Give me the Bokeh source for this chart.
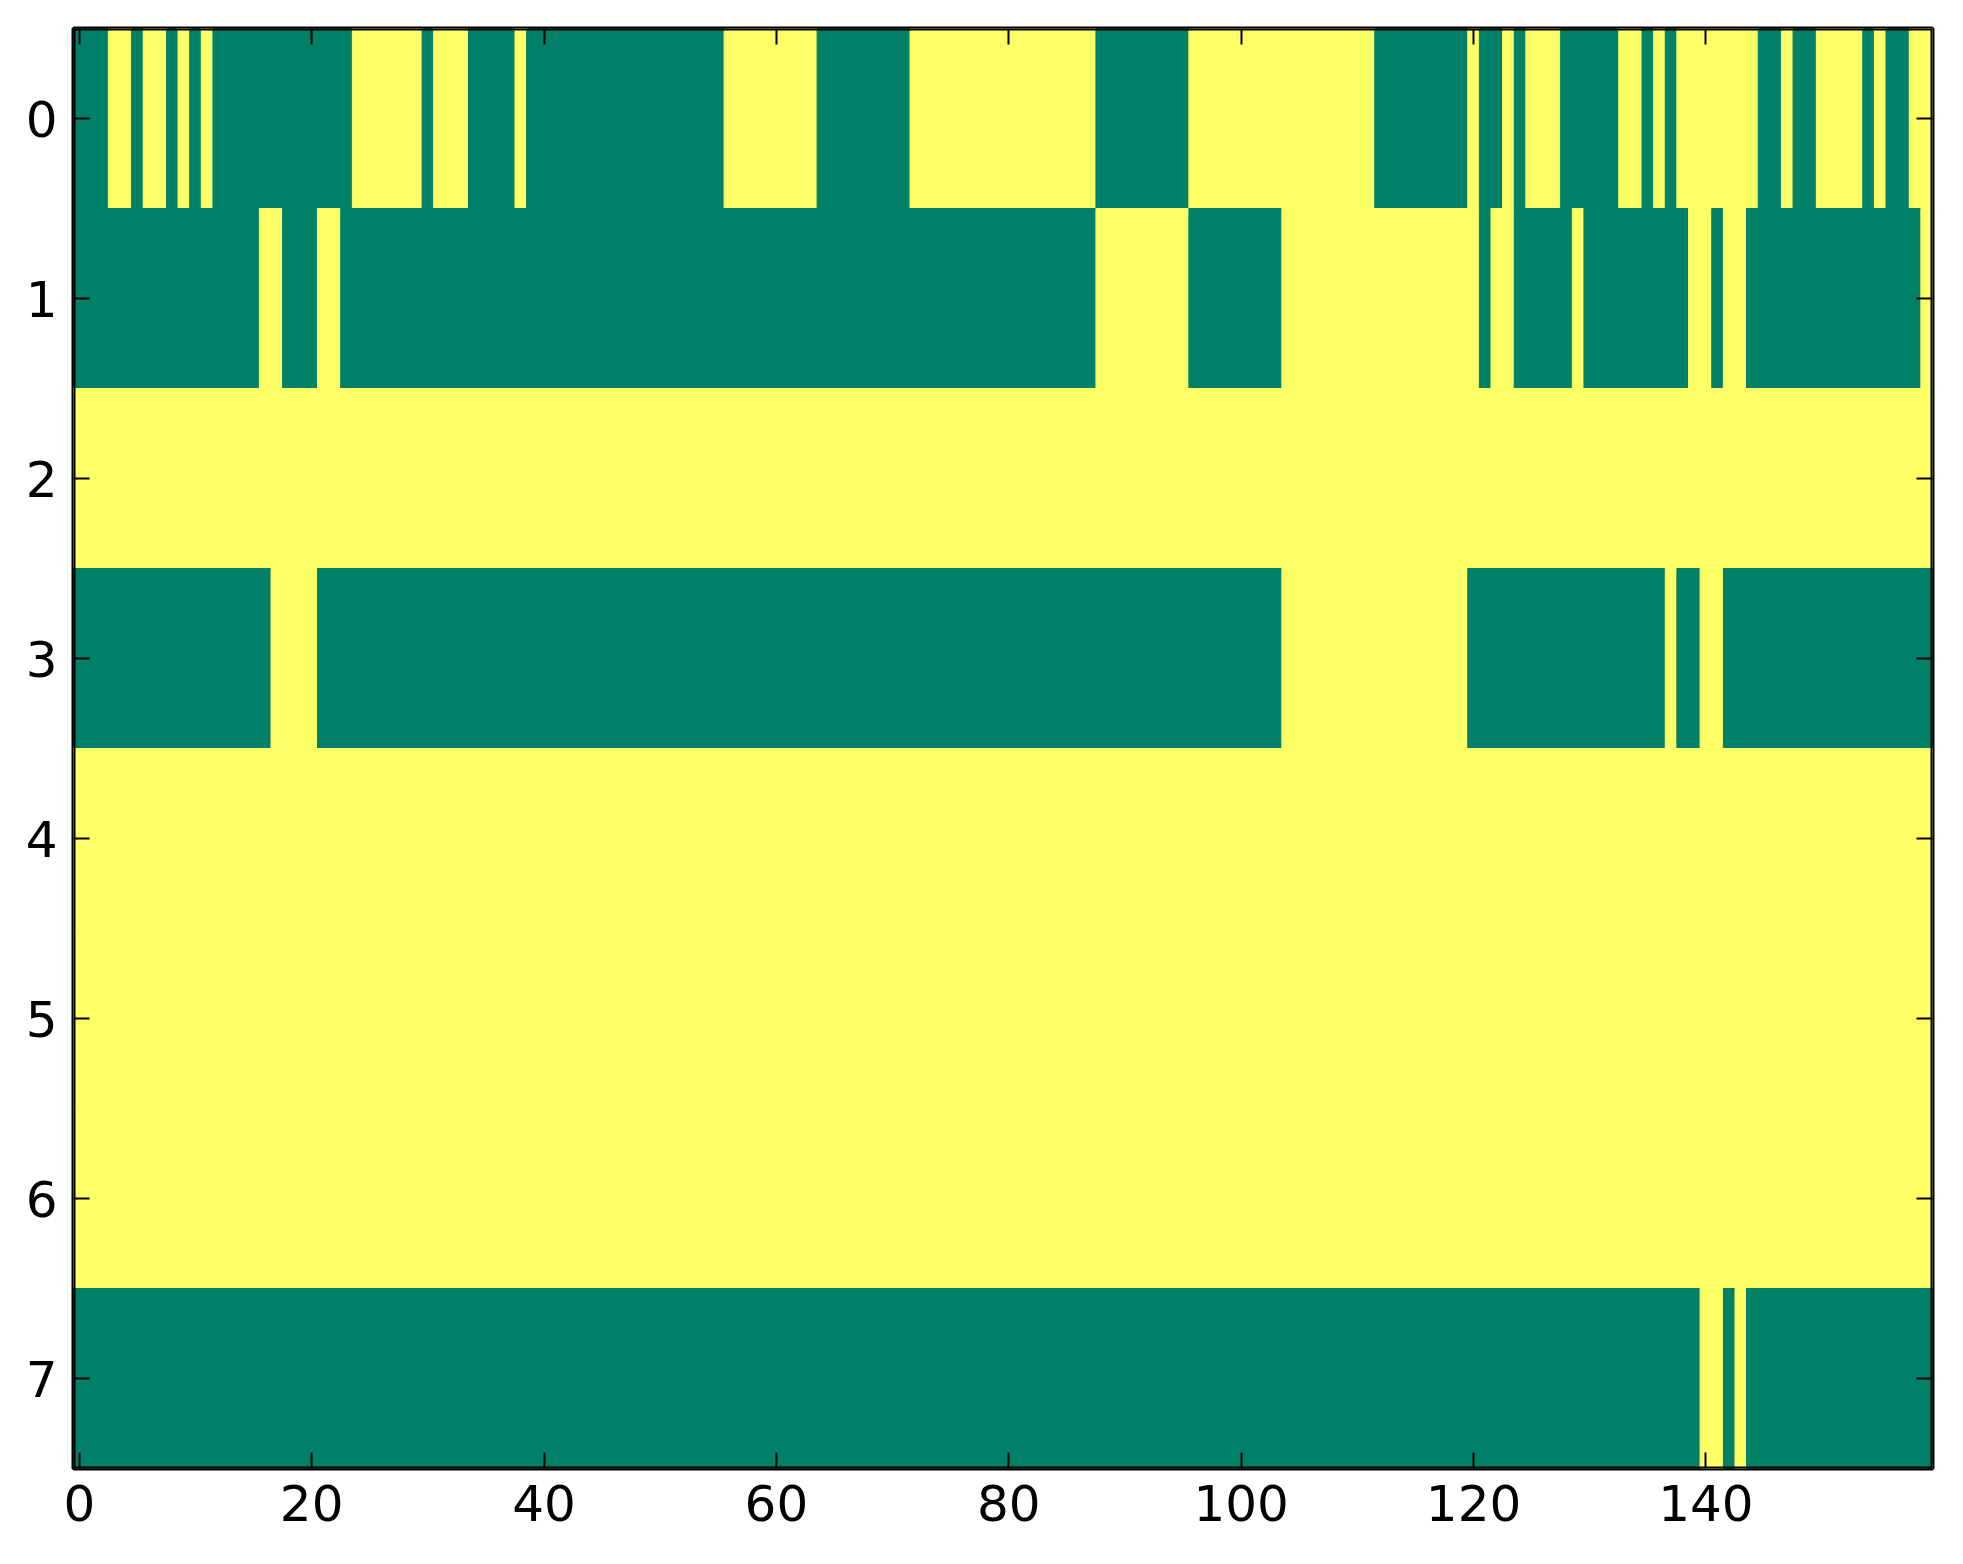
from bokeh.plotting import figure
from bokeh.models import Range1d, LinearAxis, FixedTicker, ColumnDataSource, BoxAnnotation
from bokeh.embed import file_html
from bokeh.resources import INLINE

# Cell values (0 = low / green, 1 = high / yellow), 160 columns per row
row_0 = ("000" "11" "0" "11" "0" "1" "0" "1" "000000000000" "111111" "0" "111"
         "0000" "1" "00000000000000000" "11111111" "00000000" "1111111111111111"
         "00000000" "1111111111111111" "00000000" "1" "00" "1" "0" "111" "00000"
         "11" "0" "1" "0" "1111111" "00" "1" "00" "1111" "0" "1" "00" "11")
row_1 = ("0000000000000000" "11" "000" "11"
         "00000000000000000000000000000000000000000000000000000000000000000"
         "11111111" "00000000" "11111111111111111" "0" "11" "00000" "1"
         "000000000" "11" "0" "11" "000000000000000" "1")
row_2 = "1" * 160
row_3 = ("00000000000000000" "1111"
         "00000000000000000000000000000000000000000000000000000000000000000000000000000000000"
         "1111111111111111" "00000000000000000" "1" "00" "11" "000000000000000000")
row_4 = "1" * 160
row_5 = "1" * 160
row_6 = "1" * 160
row_7 = ("0" * 140) + "11" "0" "1" "0000000000000000"

rows = [row_0, row_1, row_2, row_3, row_4, row_5, row_6, row_7]
x_ticks = [0, 20, 40, 60, 80, 100, 120, 140]
y_ticks = [0, 1, 2, 3, 4, 5, 6, 7]

GREEN = "#008066"
YELLOW = "#ffff66"
palette = {"0": GREEN, "1": YELLOW}

n_cols = len(row_0)
n_rows = len(rows)

# Merge consecutive equal cells of each row into one quad (avoids hairline seams)
left, right, top, bottom, fill = [], [], [], [], []
for r, s in enumerate(rows):
    start = 0
    for c in range(1, len(s) + 1):
        if c == len(s) or s[c] != s[start]:
            left.append(start - 0.5)
            right.append(c - 0.5)
            top.append(r - 0.5)
            bottom.append(r + 0.5)
            fill.append(palette[s[start]])
            start = c

src = ColumnDataSource(dict(left=left, right=right, top=top, bottom=bottom, fill=fill))

p = figure(width=1960, height=1560,
           x_range=Range1d(-0.5, n_cols - 0.5), y_range=Range1d(n_rows - 0.5, -0.5),
           output_backend="svg", toolbar_location=None,
           min_border_left=73, min_border_top=28, min_border_right=28, min_border_bottom=92)

p.quad(left="left", right="right", top="top", bottom="bottom", source=src,
       fill_color="fill", line_color="fill", line_width=1)

p.grid.visible = False
p.background_fill_color = YELLOW
p.border_fill_color = "white"
p.outline_line_color = "black"
p.outline_line_width = 4
p.outline_line_alpha = 1.0

# frame border drawn above the cells, like matplotlib's spines
frame_box = BoxAnnotation(fill_alpha=0, fill_color=None, line_color="black",
                          line_width=4, line_alpha=1.0, level="overlay")
p.add_layout(frame_box)

bottom_axis = p.xaxis[0]
left_axis = p.yaxis[0]
bottom_axis.ticker = FixedTicker(ticks=x_ticks)
left_axis.ticker = FixedTicker(ticks=y_ticks)

top_axis = LinearAxis(ticker=FixedTicker(ticks=x_ticks))
right_axis = LinearAxis(ticker=FixedTicker(ticks=y_ticks))

for ax in [bottom_axis, left_axis, top_axis, right_axis]:
    ax.axis_line_color = None
    ax.major_tick_in = 16
    ax.major_tick_out = 0
    ax.major_tick_line_color = "black"
    ax.major_tick_line_width = 2
    ax.minor_tick_line_color = None
    ax.major_label_text_font = "DejaVu Sans"
    ax.major_label_text_font_size = "50px"
    ax.major_label_text_color = "black"
    ax.major_label_standoff = 16

top_axis.major_label_text_font_size = "0px"
top_axis.major_label_standoff = 0
top_axis.major_label_overrides = {t: "" for t in x_ticks}
right_axis.major_label_text_font_size = "0px"
right_axis.major_label_standoff = 0
right_axis.major_label_overrides = {t: "" for t in y_ticks}

p.add_layout(top_axis, "above")
p.add_layout(right_axis, "right")

open("out.html", "w").write(file_html(p, INLINE))
